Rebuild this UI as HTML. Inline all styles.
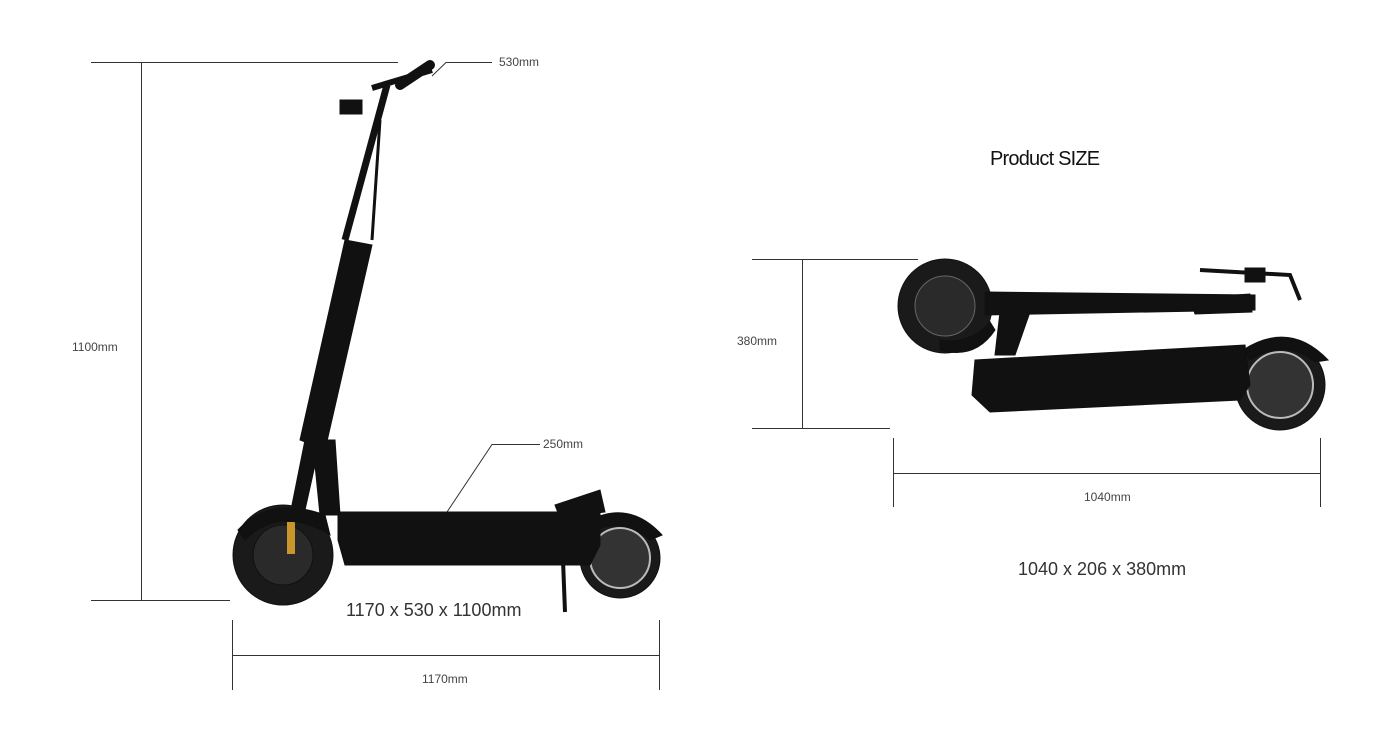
<!DOCTYPE html>
<html><head><meta charset="utf-8"><style>
html,body{margin:0;padding:0;background:#fff;}
body{width:1400px;height:750px;overflow:hidden;position:relative;font-family:"Liberation Sans",sans-serif;color:#333;}
.t{position:absolute;white-space:nowrap;}
.s{font-size:12px;color:#444;}
</style></head><body>
<svg width="1400" height="750" style="position:absolute;left:0;top:0">
<g stroke="#333" stroke-width="1" fill="none">
<line x1="91" y1="62.5" x2="398" y2="62.5"/>
<line x1="141.5" y1="62" x2="141.5" y2="600"/>
<line x1="91" y1="600.5" x2="230" y2="600.5"/>
<polyline points="432,76 446,62.5 492,62.5"/>
<polyline points="447,512 492,444.5 540,444.5"/>
<line x1="232.5" y1="620" x2="232.5" y2="690"/>
<line x1="659.5" y1="620" x2="659.5" y2="690"/>
<line x1="232" y1="655.5" x2="659" y2="655.5"/>
<line x1="752" y1="259.5" x2="918" y2="259.5"/>
<line x1="752" y1="428.5" x2="890" y2="428.5"/>
<line x1="802.5" y1="259" x2="802.5" y2="428"/>
<line x1="893.5" y1="438" x2="893.5" y2="507"/>
<line x1="1320.5" y1="438" x2="1320.5" y2="507"/>
<line x1="893" y1="473.5" x2="1320" y2="473.5"/>
</g>
<!-- standing scooter -->
<g fill="#111" stroke="#111">
<circle cx="283" cy="555" r="50" fill="#1a1a1a"/>
<circle cx="283" cy="555" r="30" fill="#2a2a2a"/>
<rect x="287" y="522" width="8" height="32" fill="#c8962a" stroke="none"/>
<circle cx="620" cy="558" r="40" fill="#1a1a1a"/>
<circle cx="620" cy="558" r="30" fill="#333" stroke="#bbb" stroke-width="2"/>
<path d="M590 520 Q630 500 662 535 L650 540 Q625 518 595 530Z"/>
<polygon points="338,512 600,512 600,545 590,565 345,565 338,540"/>
<polygon points="555,505 600,490 605,512 560,518"/>
<path d="M238 530 Q270 495 325 515 L330 535 Q280 505 245 540Z"/>
<polygon points="292,505 305,440 335,440 340,515 320,515 315,465 305,510"/>
<polygon points="300,440 345,240 372,245 325,450"/>
<line x1="345" y1="240" x2="387" y2="85" stroke-width="7"/>
<line x1="372" y1="240" x2="380" y2="120" stroke-width="3"/>
<path d="M372 88 L432 70" stroke-width="6"/>
<path d="M400 85 L430 65" stroke-width="10" stroke-linecap="round"/>
<rect x="340" y="100" width="22" height="14"/>
<line x1="563" y1="560" x2="565" y2="612" stroke-width="4"/>
</g>
<!-- folded scooter -->
<g fill="#111" stroke="#111">
<circle cx="945" cy="306" r="47" fill="#1a1a1a"/>
<circle cx="945" cy="306" r="30" fill="#2a2a2a" stroke="#666"/>
<circle cx="1280" cy="385" r="45" fill="#1a1a1a"/>
<circle cx="1280" cy="385" r="33" fill="#333" stroke="#bbb" stroke-width="2"/>
<path d="M1243 350 Q1290 320 1328 360 L1315 362 Q1285 338 1250 360Z"/>
<polygon points="975,360 1245,345 1250,385 1240,400 990,412 972,395"/>
<polygon points="985,292 1255,295 1255,310 985,315"/>
<polygon points="1000,312 1030,312 1015,355 995,355"/>
<polygon points="1190,298 1250,294 1252,312 1195,314"/>
<path d="M1200 270 L1290 275 L1300 300" stroke-width="4" fill="none"/>
<rect x="1245" y="268" width="20" height="14"/>
<path d="M940 350 Q975 360 995 330 L990 322 Q970 345 940 340Z"/>
</g>
</svg>
<div class="t s" style="left:499px;top:55px">530mm</div>
<div class="t s" style="left:72px;top:340px">1100mm</div>
<div class="t s" style="left:543px;top:437px">250mm</div>
<div class="t" style="left:346px;top:600px;font-size:18px;color:#333">1170 x 530 x 1100mm</div>
<div class="t s" style="left:422px;top:672px">1170mm</div>
<div class="t" style="left:990px;top:148px;font-size:20px;color:#111;letter-spacing:-0.8px">Product SIZE</div>
<div class="t s" style="left:737px;top:334px">380mm</div>
<div class="t s" style="left:1084px;top:490px">1040mm</div>
<div class="t" style="left:1018px;top:559px;font-size:18px;color:#333">1040 x 206 x 380mm</div>
</body></html>
